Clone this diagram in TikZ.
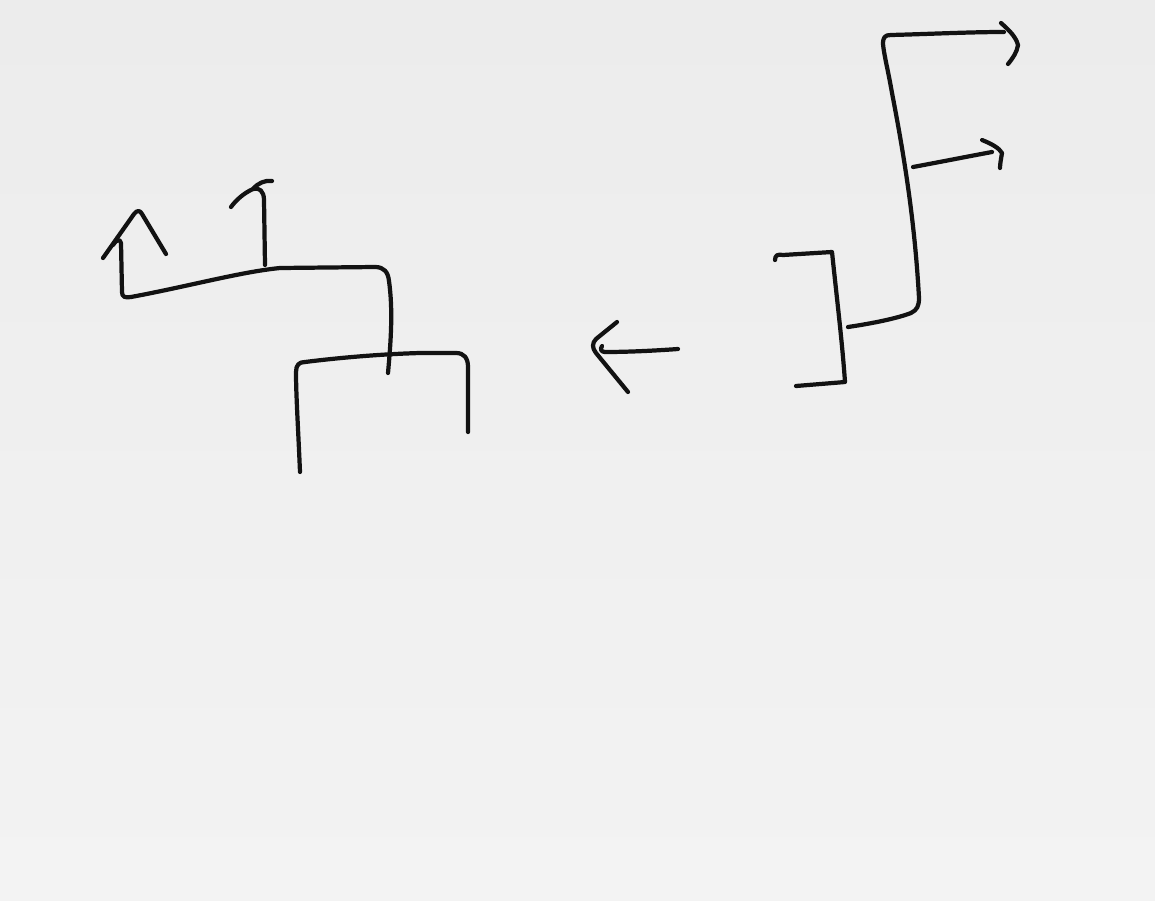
\documentclass[tikz,border=0pt]{standalone}
\definecolor{paperTop}{RGB}{236,236,236}
\definecolor{paperBot}{RGB}{243,243,243}
\definecolor{ink}{RGB}{18,18,18}
\tikzset{sk/.style={draw=ink, line width=1.2pt, line cap=round, line join=round}}
\begin{document}
\begin{tikzpicture}[x=0.01cm,y=-0.01cm]
\useasboundingbox (0,0) rectangle (1155,900);
\shade[top color=paperTop, bottom color=paperBot] (0,0) rectangle (1155,900);

% ---- left structure ----
% left up arrow and long connector down to the box
\draw[sk] (113,245) .. controls (116,240) and (120,238) .. (121,243)
  -- (122,292) .. controls (122,297) and (125,298) .. (131,297)
  .. controls (190,286) and (240,272) .. (280,268) -- (375,267)
  .. controls (384,267) and (388,272) .. (389,281)
  .. controls (393,310) and (391,340) .. (388,373);
\draw[sk] (103,258) -- (134,214) .. controls (137,210) and (140,210) .. (142,214) -- (166,254);
% second up arrow
\draw[sk] (265,265) -- (264,200) .. controls (264,191) and (259,187) .. (253,189)
  .. controls (244,193) and (236,200) .. (231,207);
\draw[sk] (253,189) .. controls (258,183) and (265,180) .. (272,181);
% bottom box
\draw[sk] (300,472) .. controls (298,425) and (296,395) .. (296,372)
  .. controls (296,365) and (299,362) .. (305,362)
  .. controls (345,357) and (385,354) .. (420,353) -- (456,353)
  .. controls (464,353) and (468,358) .. (468,367) -- (468,432);

% ---- middle arrow ----
\draw[sk] (678,349) .. controls (650,351) and (625,352) .. (605,352)
  .. controls (601,352) and (600,349) .. (602,346);
\draw[sk] (617,322) -- (596,339) .. controls (592,343) and (592,348) .. (596,353) -- (628,392);

% ---- right structure ----
\draw[sk] (775,260) .. controls (775,255) and (778,254) .. (783,255)
  -- (832,252) .. controls (837,300) and (842,340) .. (845,382) -- (796,386);
\draw[sk] (848,327) .. controls (875,323) and (898,318) .. (911,313)
  .. controls (917,310) and (919,306) .. (919,298)
  .. controls (915,225) and (905,160) .. (892,93)
  .. controls (888,70) and (884,55) .. (883,44)
  .. controls (883,37) and (885,35) .. (891,35)
  .. controls (930,34) and (970,32) .. (1004,32);
\draw[sk] (1001,23) .. controls (1009,30) and (1016,37) .. (1018,45)
  .. controls (1017,52) and (1013,58) .. (1008,64);
\draw[sk] (913,167) .. controls (940,162) and (965,157) .. (992,152);
\draw[sk] (982,140) .. controls (992,144) and (999,148) .. (1002,153)
  .. controls (1001,159) and (1000,164) .. (1000,168);
\end{tikzpicture}
\end{document}
